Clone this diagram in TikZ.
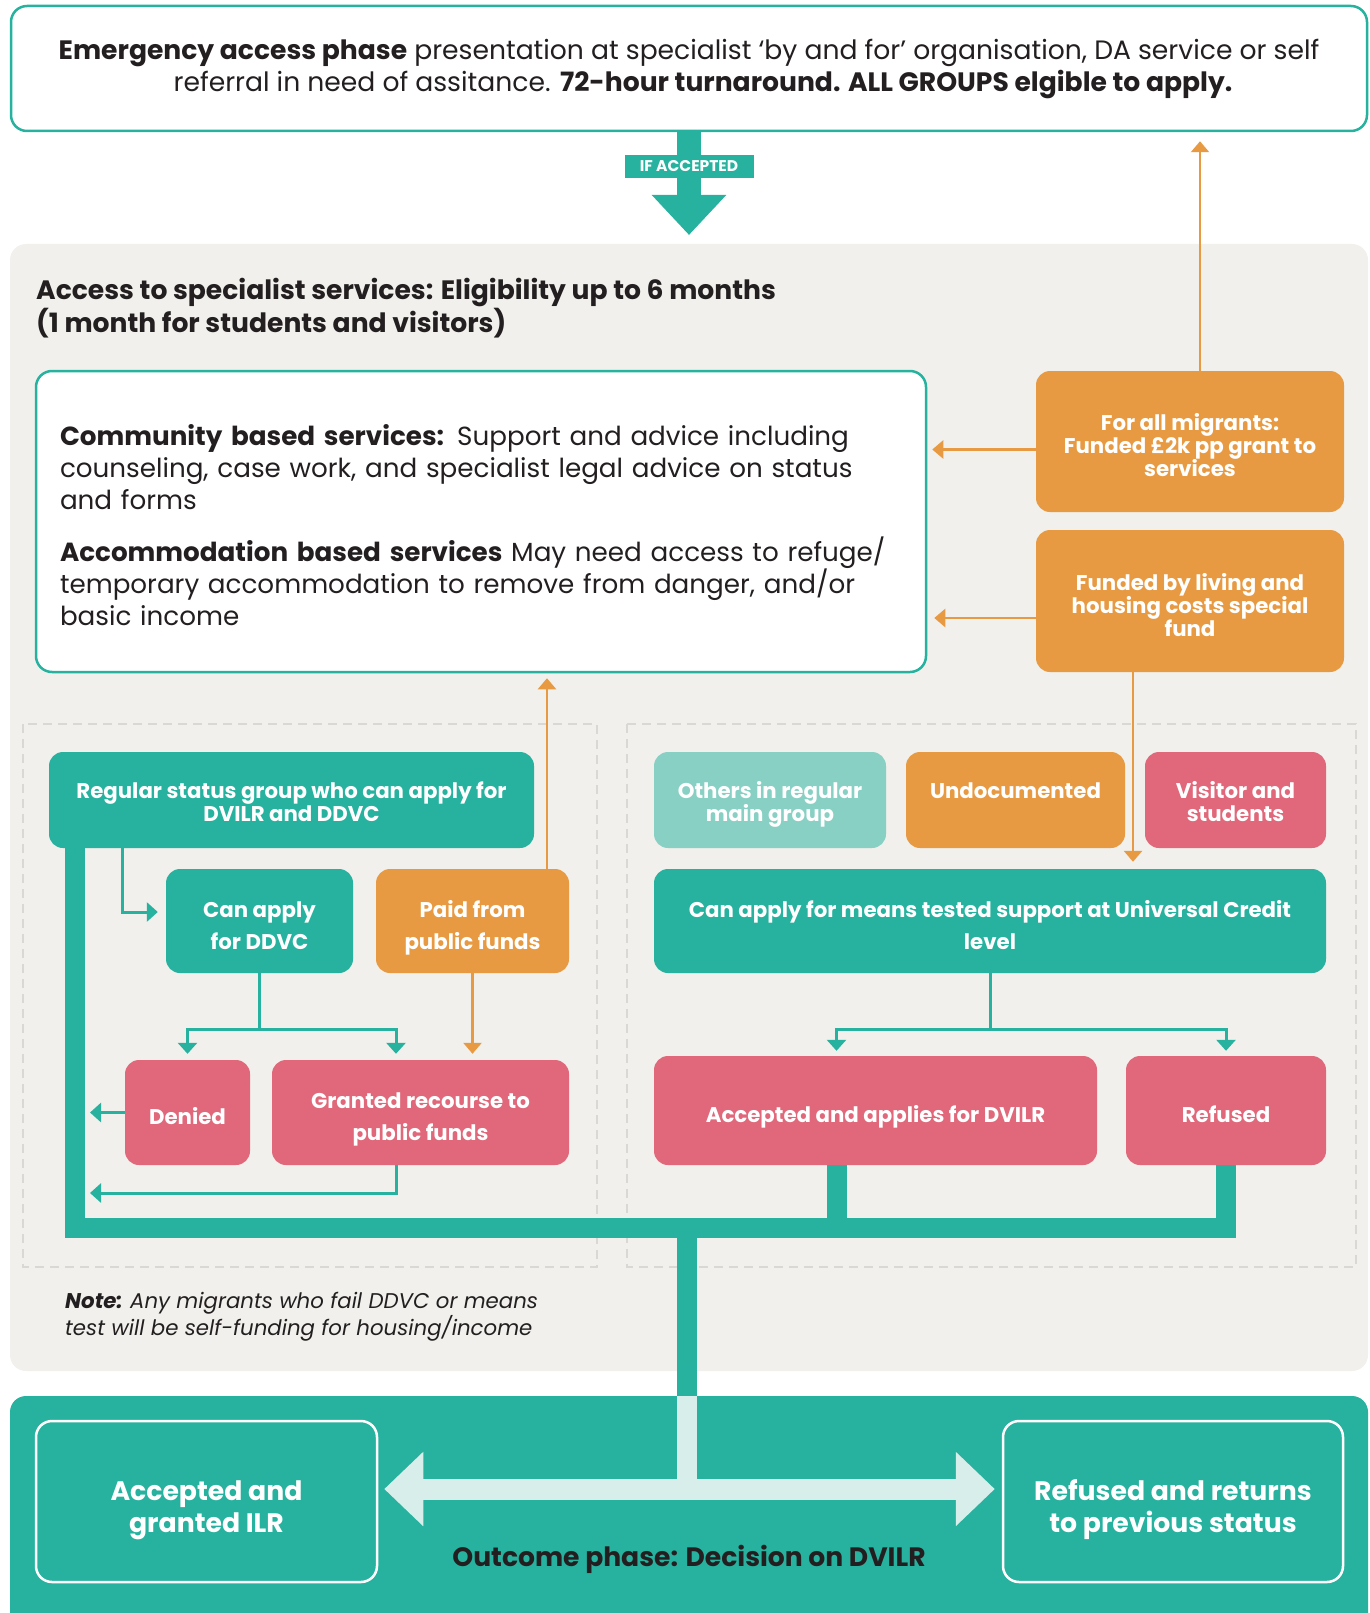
\documentclass[tikz,border=0pt]{standalone}
\usepackage{fontspec}
\setmainfont{Poppins}
\usetikzlibrary{arrows.meta}
\usetikzlibrary{positioning}
\definecolor{tl}{HTML}{26B29F}
\definecolor{og}{HTML}{E89A42}
\definecolor{pk}{HTML}{E0687A}
\definecolor{lt}{HTML}{89D0C4}
\definecolor{pn}{HTML}{F1F0EC}
\definecolor{dsh}{HTML}{D9D8D4}
\definecolor{pale}{HTML}{D8EEEA}
\definecolor{ink}{HTML}{231F20}
\newcommand{\fs}[2]{\fontsize{#1}{#2}\selectfont}
\newcommand{\tallrule}[1][30pt]{\rule{0pt}{#1}}
\newcommand{\deeprule}{\rule[-5.5pt]{0pt}{0pt}}
\tikzset{%
  box/.style = {rectangle,rounded corners=14pt,inner sep=0pt,align=center,
        text=white,font=\bfseries\fs{21.3}{23}},
  tbox/.style = {box,fill=tl},
  obox/.style = {box,fill=og},
  pbox/.style = {box,fill=pk},
  lbox/.style = {box,fill=lt},
  loose/.style = {font=\bfseries\fs{21.3}{32}},
  frame/.style = {line width=2.5pt,rounded corners=16pt},
  tarrow/.style = {-{Triangle[width=19pt,length=11pt]},draw=tl,line width=3pt},
  oarrow/.style = {-{Triangle[width=18pt,length=11pt]},draw=og,line width=2.5pt},
  bus/.style = {draw=tl,line width=20pt},
  grp/.style = {draw=dsh,line width=2pt,dash pattern=on 9pt off 6pt}
}

\begin{document}
\begin{tikzpicture}[x=1pt,y=-1pt]
  \useasboundingbox (0,0) rectangle (1369,1613);
  \fill[pn,rounded corners=16pt] (10,244) rectangle (1368,1371);
  \draw[grp] (23,724) rectangle (597,1267);
  \draw[grp] (627,724) rectangle (1356,1267);

  \node[frame,draw=tl,fill=white,minimum width=1356pt,minimum height=125pt,
    align=center,text=ink,font=\fs{26.6}{32}] (top) at (689,68.5)
    {\textbf{Emergency access phase} presentation at specialist ‘by and for’ organisation, DA service or self\\
     \hspace*{28pt}referral in need of assitance. \textbf{72-hour turnaround. ALL GROUPS elgible to apply.}};
  \coordinate (acc) at (689,235);
  \draw[tl,line width=24pt,-{Triangle[width=72pt,length=40pt]}] (top.south) -- (acc);
  \node[tbox,rounded corners=0pt,font=\bfseries\fs{15.5}{17},minimum width=129pt,
    minimum height=23pt] (ifacc) at (689,166.5) {IF ACCEPTED};

  \node[anchor=west,align=left,inner sep=0pt,text=ink,font=\bfseries\fs{26.6}{31}] (title) at (36,308)
    {Access to specialist services: Eligibility up to 6 months\\(1 month for students and visitors)};

  \node[frame,draw=tl,fill=white,minimum width=890pt,minimum height=301pt,text width=842pt,
    align=left,text=ink,font=\fs{26.2}{32}] (comm) at (481,521.5)
    {\tallrule[29pt]\textbf{Community based services:} Support and advice including\\
     counseling, case work, and specialist legal advice on status\\
     and forms\\[20pt]
     \textbf{Accommodation based services} May need access to refuge/\\
     temporary accommodation to remove from danger, and/or\\
     basic income};

  \node[obox,minimum width=308pt,minimum height=141pt] (fund) at (1190,441.5)
    {\tallrule For all migrants:\\Funded £2k pp grant to\\services\deeprule};
  \node[obox,minimum width=308pt,minimum height=142pt] (live) at (1190,601)
    {\tallrule Funded by living and\\housing costs special\\fund\deeprule};

  \node[tbox,minimum width=485pt,minimum height=96pt] (reg) at (291.5,800)
    {\tallrule[26pt]Regular status group who can apply for\\DVILR and DDVC\deeprule};
  \node[tbox,loose,minimum width=187pt,minimum height=104pt] (ddvc) at (259.5,921)
    {\tallrule Can apply\\for DDVC\deeprule};
  \node[obox,loose,minimum width=193pt,minimum height=104pt] (paid) at (472.5,921)
    {\tallrule Paid from\\public funds\deeprule};
  \node[pbox,minimum width=125pt,minimum height=105pt] (denied) at (187.5,1112.5)
    {\tallrule Denied\deeprule};
  \node[pbox,loose,minimum width=297pt,minimum height=105pt] (granted) at (420.5,1112.5)
    {\tallrule Granted recourse to\\public funds\deeprule};

  \node[lbox,minimum width=232pt,minimum height=96pt] (others) at (770,800)
    {\tallrule[26pt]Others in regular\\main group\deeprule};
  \node[obox,minimum width=219pt,minimum height=96pt] (undoc) at (1015.5,800)
    {\tallrule[26pt]Undocumented\\\deeprule};
  \node[pbox,minimum width=181pt,minimum height=96pt] (visitor) at (1235.5,800)
    {\tallrule[26pt]Visitor and\\students\deeprule};
  \node[tbox,loose,minimum width=672pt,minimum height=104pt] (means) at (990,921)
    {\tallrule Can apply for means tested support at Universal Credit\\level\deeprule};
  \node[pbox,minimum width=443pt,minimum height=109pt] (dvilr) at (875.5,1110.5)
    {\tallrule Accepted and applies for DVILR\deeprule};
  \node[pbox,minimum width=200pt,minimum height=109pt] (refused) at (1226,1110.5)
    {\tallrule Refused\deeprule};

  \node[anchor=west,align=left,inner sep=0pt,text=ink,font=\fs{21.3}{23.5}] (note) at (65,1317)
    {\textbf{\textit{Note:}} \textit{Any migrants who fail DDVC or means}\\
     \textit{test will be self-funding for housing/income}};

  \draw[oarrow,shorten >=9pt] ([xshift=10pt]fund.north) -- ([xshift=10pt]fund.north |- top.south);
  \draw[oarrow,shorten >=5pt] ([yshift=-8pt]fund.west) -- ([yshift=-8pt]fund.west -| comm.east);
  \draw[oarrow,shorten >=7pt] ([yshift=-17pt]live.west) -- ([yshift=-17pt]live.west -| comm.east);
  \draw[oarrow,shorten >=7pt] ([xshift=-57pt]live.south) -- ([xshift=-57pt]live.south |- means.north);
  \draw[oarrow,shorten >=5pt] ([xshift=74.5pt]paid.north) -- ([xshift=74.5pt]paid.north |- comm.south);
  \draw[oarrow,shorten >=6pt] (paid.south) -- (paid.south |- granted.north);

  \coordinate (split1) at (259.5,1029);
  \coordinate (split2) at (990,1029);
  \coordinate (lanein) at (90,1193);
  \draw[tarrow,shorten >=8pt] ([xshift=-169.5pt]reg.south) |- ([yshift=9pt]ddvc.west);
  \draw[tarrow,shorten >=6pt] (ddvc.south) -- (split1) -| (denied.north);
  \draw[tarrow,shorten >=6pt] (split1) -| ([xshift=-24.5pt]granted.north);
  \draw[tarrow] (denied.west) -- (denied.west -| lanein);
  \draw[tarrow] ([xshift=-24.5pt]granted.south) |- (lanein);
  \draw[tarrow,shorten >=5pt] (means.south) -- (split2) -| ([xshift=-39pt]dvilr.north);
  \draw[tarrow,shorten >=5pt] (split2) -| (refused.north);

  \coordinate (hub) at (687,1228);
  \coordinate (outtop) at (687,1396);
  \coordinate (cross) at (687,1489);
  \draw[bus] ([xshift=-216.5pt]reg.south) |- (hub) -| (refused.south);
  \draw[bus] ([xshift=-38.5pt]dvilr.south) -- ([xshift=-38.5pt]dvilr.south |- hub);
  \draw[bus] (hub) -- (outtop);

  \fill[tl,rounded corners=16pt] (10,1396) rectangle (1368,1640);
  \draw[pale,line width=20pt] (outtop) -- ([yshift=-8pt]cross);
  \node[frame,draw=white,minimum width=341pt,minimum height=161pt,align=center,
    text=white,font=\bfseries\fs{26.7}{32}] (ilr) at (206.5,1501.5)
    {\tallrule[38pt]Accepted and\\granted ILR};
  \node[frame,draw=white,minimum width=340pt,minimum height=161pt,align=center,
    text=white,font=\bfseries\fs{26.7}{32}] (prev) at (1173,1501.5)
    {\tallrule[38pt]Refused and returns\\to previous status};
  \draw[pale,line width=21pt,{Triangle[width=72pt,length=39pt]}-{Triangle[width=72pt,length=39pt]},
    shorten <=6pt,shorten >=7pt] ([yshift=12.5pt]ilr.east) -- ([yshift=12.5pt]prev.west);
  \node[text=ink,font=\bfseries\fs{26.6}{30}] (outcome) at (689,1559) {Outcome phase: Decision on DVILR};
\end{tikzpicture}
\end{document}
